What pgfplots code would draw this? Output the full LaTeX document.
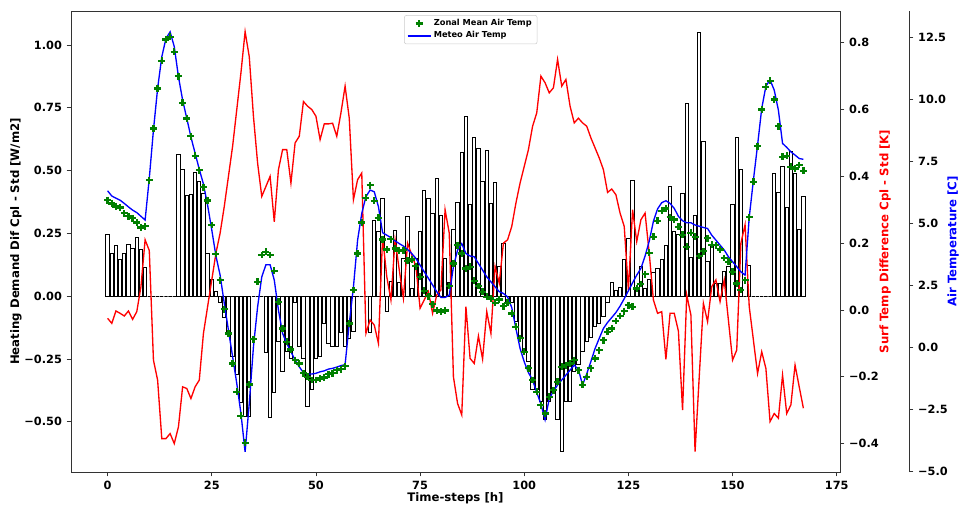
\documentclass[border=0pt]{standalone}
\usepackage{pgfplots}
\usepackage{pgfplotstable}
\pgfplotsset{compat=1.18}
\usepackage{fontspec}
\setmainfont{DejaVu Sans}
\definecolor{mplgreen}{RGB}{0,128,0}
\pgfplotstableread{
t B R L G
0 0.245 -0.025 6.33 5.95
1 0.17 -0.04 6.12 5.82
2 0.20 -0.003 6.03 5.70
3 0.145 -0.01 5.95 5.66
4 0.17 -0.018 5.82 5.42
5 0.205 -0.003 5.68 5.30
6 0.19 -0.028 5.55 5.22
7 0.235 -0.005 5.45 5.05
8 0.185 0.07 5.30 4.85
9 0.115 0.21 5.15 4.90
10 0 0.178 6.83 6.76
11 0 -0.15 8.78 8.84
12 0 -0.21 10.46 10.46
13 0 -0.385 11.73 11.57
14 0 -0.385 12.47 12.43
15 0 -0.37 12.74 12.54
16 0 -0.40 12.14 11.94
17 0.564 -0.35 10.93 10.95
18 0.505 -0.23 9.99 9.88
19 0.40 -0.235 9.25 9.25
20 0.405 -0.265 8.50 8.53
21 0.494 -0.23 7.84 7.74
22 0.458 -0.21 7.20 7.16
23 0.41 -0.07 6.60 6.48
24 0.17 0.01 5.75 5.94
25 0.066 0.09 4.75 4.95
26 0.017 0.17 3.70 3.78
27 -0.024 0.23 2.93 2.73
28 -0.086 0.31 1.79 1.55
29 -0.15 0.40 0.71 0.58
30 -0.24 0.49 -0.36 -0.63
31 -0.31 0.60 -1.44 -1.77
32 -0.425 0.71 -2.65 -2.74
33 -0.478 0.833 -4.20 -3.83
34 -0.478 0.758 -2.24 -1.48
35 0 0.58 0.04 0.34
36 0 0.44 1.65 2.66
37 0 0.34 2.86 3.74
38 -0.225 0.37 3.35 3.87
39 -0.484 0.40 3.35 3.74
40 -0.385 0.264 2.73 3.10
41 -0.18 0.42 1.52 1.85
42 -0.30 0.48 0.58 0.78
43 -0.22 0.48 0.17 0.24
44 -0.25 0.38 -0.16 -0.07
45 -0.025 0.50 -0.50 -0.50
46 -0.20 0.52 -0.77 -0.63
47 -0.25 0.624 -1.00 -1.03
48 -0.44 0.61 -1.06 -1.17
49 -0.37 0.60 -1.06 -1.30
50 -0.25 0.58 -1.03 -1.30
51 -0.24 0.51 -0.97 -1.24
52 -0.11 0.557 -0.93 -1.20
53 -0.19 0.557 -0.86 -1.06
54 -0.20 0.559 -0.83 -1.03
55 -0.20 0.52 -0.78 -0.90
56 -0.146 0.59 -0.72 -0.87
57 -0.20 0.67 -0.68 -0.74
58 -0.17 0.574 0.98 0.98
59 -0.14 0.33 2.45 2.33
60 0 0.39 4.34 3.80
61 0 0.41 5.42 5.05
62 0 -0.07 6.09 6.05
63 -0.145 -0.03 6.36 6.56
64 0.30 -0.045 6.29 5.93
65 0.256 -0.10 5.69 5.24
66 0.387 0.22 4.64 4.37
67 -0.06 0.10 4.54 3.96
68 0.06 0.03 4.44 4.38
69 0.263 0.21 4.31 4.00
70 0.056 0.12 4.20 3.91
71 0.15 0.035 4.10 3.94
72 0.318 0.20 3.96 3.51
73 0.03 0.165 3.80 3.56
74 0.15 0.13 3.60 3.29
75 0.259 0.005 3.33 2.86
76 0.422 0.03 3.06 2.30
77 0.387 0.055 2.80 2.08
78 0.33 -0.01 2.53 1.75
79 0.467 0.045 2.26 1.50
80 0.32 0.06 2.03 1.45
81 0.149 0.30 2.03 1.50
82 0.053 0.23 2.12 2.49
83 0.265 -0.20 3.27 3.40
84 0.372 -0.28 3.94 4.14
85 0.571 -0.314 4.20 3.80
86 0.717 0.01 3.80 3.20
87 0.365 -0.145 3.70 3.27
88 0.63 -0.16 3.67 2.70
89 0.587 -0.078 3.40 2.49
90 0.458 -0.147 3.13 2.26
91 0.581 -0.005 2.86 2.06
92 0.369 -0.07 2.66 1.99
93 0.454 0.13 2.46 1.81
94 0.12 0.08 2.26 1.95
95 0.21 0.20 2.19 1.68
96 -0.02 0.21 2.05 1.81
97 -0.027 0.25 1.62 1.38
98 -0.10 0.32 0.78 0.85
99 -0.166 0.38 -0.03 0.38
100 -0.219 0.43 -0.57 -0.16
101 -0.259 0.48 -1.00 -0.83
102 -0.37 0.55 -1.30 -1.30
103 -0.37 0.59 -1.80 -1.77
104 -0.42 0.70 -2.27 -2.31
105 -0.49 0.68 -2.90 -2.65
106 -0.42 0.65 -2.05 -1.98
107 -0.385 0.665 -1.75 -1.71
108 -0.49 0.75 -1.50 -1.37
109 -0.618 0.67 -1.30 -0.77
110 -0.42 0.69 -1.10 -0.70
111 -0.42 0.61 -0.90 -0.63
112 -0.30 0.56 -0.70 -0.50
113 -0.27 0.574 -0.88 -0.90
114 -0.22 0.56 -1.50 -1.50
115 -0.18 0.55 -1.05 -1.17
116 -0.165 0.515 -0.55 -0.83
117 -0.12 0.485 -0.03 -0.43
118 -0.11 0.455 0.38 -0.10
119 -0.08 0.42 0.78 0.31
120 -0.027 0.352 1.02 0.65
121 0.056 0.362 1.22 0.78
122 0.024 0.345 1.42 1.08
123 0.033 0.29 1.68 1.28
124 0.146 0.25 1.98 1.48
125 0.228 0.06 2.30 1.72
126 0.462 0.30 2.62 1.65
127 0.036 0.205 2.93 2.39
128 0.12 0.27 3.20 2.57
129 0.03 0.29 3.70 2.97
130 0.066 0.17 4.30 3.83
131 0.093 0.03 5.10 4.48
132 0.109 -0.01 5.60 5.12
133 0.146 -0.005 5.85 5.52
134 0.20 -0.148 5.93 5.62
135 0.435 -0.01 5.82 5.26
136 0.259 -0.01 5.62 5.17
137 0.245 -0.063 5.30 4.88
138 0.41 -0.30 5.12 4.56
139 0.766 0.045 5.04 4.07
140 0.153 -0.015 5.04 4.64
141 0.32 -0.424 4.95 4.48
142 1.05 -0.20 4.90 3.70
143 0.617 0.02 4.85 3.90
144 0.137 -0.035 4.81 4.42
145 0.20 0.07 4.54 4.15
146 0.05 0.09 4.34 4.14
147 0.05 0.025 4.14 3.96
148 0.10 0.09 3.94 3.62
149 0.12 -0.03 3.67 3.47
150 0.365 -0.15 3.47 3.06
151 0.63 -0.12 3.27 2.59
152 0.504 0.20 3.06 2.33
153 0 0.255 2.93 2.73
154 0.124 0.01 5.26 5.26
155 0 -0.09 6.76 6.69
156 0 -0.19 8.17 8.13
157 0 -0.125 9.65 9.61
158 0 -0.175 10.55 10.52
159 0 -0.334 10.80 10.77
160 0.488 -0.31 10.39 10.01
161 0.411 -0.324 9.58 8.94
162 0.518 -0.195 8.24 7.70
163 0.352 -0.31 8.08 7.74
164 0.576 -0.284 7.90 7.30
165 0.488 -0.165 7.77 7.23
166 0.265 -0.23 7.63 7.37
167 0.398 -0.294 7.60 7.14
}\data

\begin{document}
\begin{tikzpicture}[x=1pt,y=1pt]
\useasboundingbox (-53.25,-26.25) rectangle (666,354);
\pgfplotsset{
  every axis/.append style={
    scale only axis, height=345.75pt,
    tick align=outside, major tick length=3.3pt,
    axis line style={black!80, line width=0.6pt},
    every tick/.style={black!80, line width=0.6pt},
    ticklabel style={font=\bfseries\fontsize{8.5}{10}\selectfont},
    label style={font=\bfseries\fontsize{8.8}{10}\selectfont},
  },
}
\begin{axis}[
  width=576.75pt,
  xmin=-8.79, xmax=175.79, ymin=-0.70, ymax=1.135,
  tick pos=left,
  xtick={0,25,50,75,100,125,150,175},
  xticklabels={0,25,50,75,100,125,150,175},
  ytick={-0.5,-0.25,0,0.25,0.5,0.75,1},
  yticklabels={{−0.50},{−0.25},{0.00},{0.25},{0.50},{0.75},{1.00}},
  xlabel={Time-steps [h]},
  ylabel={Heating Demand Dif Cpl - Std [W/m2]},
  xlabel style={at={([yshift=-19.5pt]axis description cs:0.5,0)}, anchor=center},
  ylabel style={at={([xshift=-41.25pt]axis description cs:0,0.5)}, anchor=center},
]
\addplot[ybar, bar width=0.8, draw=black, fill=white, line width=0.7pt] table[x=t,y=B]{\data};
\end{axis}

\begin{axis}[
  width=576.75pt,
  xmin=-8.79, xmax=175.79, ymin=-0.485, ymax=0.895,
  axis y line*=right, axis x line=none,
  ytick={-0.4,-0.2,0,0.2,0.4,0.6,0.8},
  yticklabels={{−0.4},{−0.2},{0.0},{0.2},{0.4},{0.6},{0.8}},
  ylabel={Surf Temp Difference Cpl - Std [K]},
  ylabel style={at={([xshift=33.75pt]axis description cs:1,0.5)}, anchor=center, text=red},
]
\addplot[red, line width=1pt, no marks] table[x=t,y=R]{\data};
\end{axis}

\begin{axis}[
  width=628.5pt,
  xmin=-8.79, xmax=192.35, ymin=-5.01, ymax=13.58,
  axis y line*=right, axis x line=none,
  ytick={-5,-2.5,0,2.5,5,7.5,10,12.5},
  yticklabels={{−5.0},{−2.5},{0.0},{2.5},{5.0},{7.5},{10.0},{12.5}},
  ylabel={Air Temperature [C]},
  ylabel style={at={([xshift=33pt]axis description cs:1,0.5)}, anchor=center, text=blue},
  legend cell align=left,
  legend style={at={(0.477,0.991)}, anchor=north, draw=black!20, rounded corners=1.5pt,
    fill=white, fill opacity=0.85, text opacity=1,
    font=\bfseries\fontsize{6.2}{7.4}\selectfont, inner xsep=2pt, inner ysep=1pt, row sep=-1pt},
]
\addplot[only marks, mark=+, mplgreen, mark size=2.6pt, line width=1.7pt] table[x=t,y=G]{\data};
\addlegendentry{Zonal Mean Air Temp}
\addplot[blue, line width=1pt, no marks] table[x=t,y=L]{\data};
\addlegendentry{Meteo Air Temp}
\end{axis}
\end{tikzpicture}
\end{document}
